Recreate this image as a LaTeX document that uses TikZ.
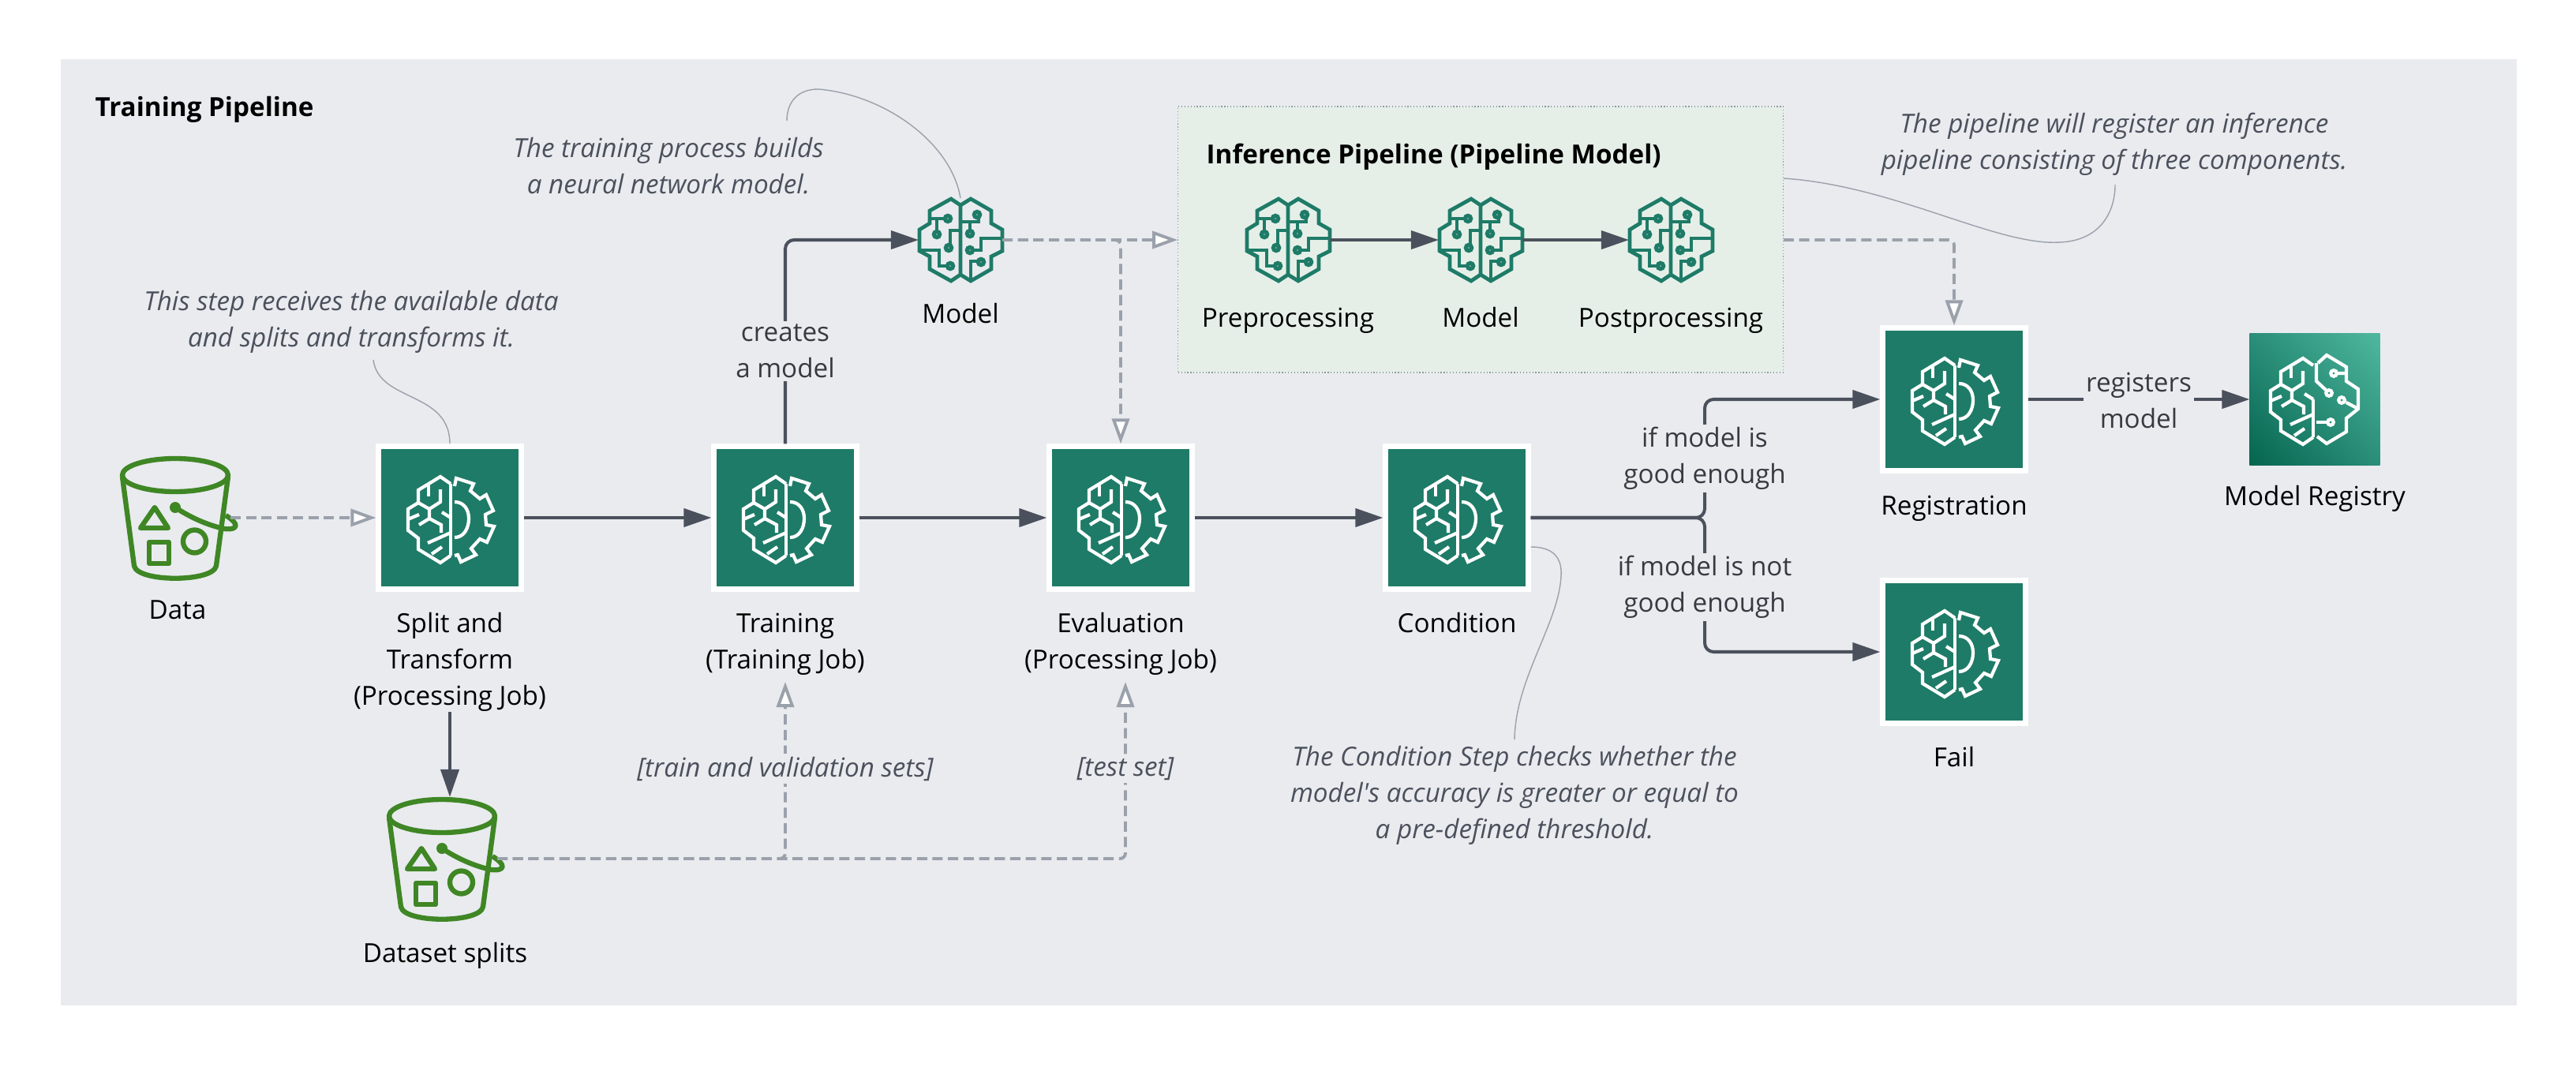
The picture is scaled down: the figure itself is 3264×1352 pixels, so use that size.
\documentclass[tikz,border=0pt]{standalone}
\usepackage{fontspec}
\defaultfontfeatures[\rmfamily]{}
\setmainfont{Open Sans}
\usepackage{xcolor}
\usetikzlibrary{calc,arrows.meta,positioning,shadings}
\definecolor{panelc}{HTML}{E9EBEF}
\definecolor{infc}{HTML}{E5EFE8}
\definecolor{infb}{HTML}{8E989E}
\definecolor{sagec}{HTML}{1E7B67}
\definecolor{bucketc}{HTML}{3F8624}
\definecolor{darkc}{HTML}{4B515C}
\definecolor{greyc}{HTML}{9BA1AB}
\definecolor{textc}{HTML}{363A41}
\definecolor{regdark}{HTML}{05654F}
\definecolor{regmid}{HTML}{2A8E78}
\definecolor{reglight}{HTML}{4FB89F}
\newcommand{\brainlobe}{
  \draw (1,-43)--(-12,-52)--(-40,-35)--(-40,-19)--(-53,-11)--(-53,16)--(-40,26)--(-40,40)--(-12,57)--(1,48);
  \draw (-27,-41)--(-27,-27);
  \draw (-12,-36)--(-12,-20)--(-26,-11)--(-40,-19);
  \draw (-26,-11)--(-26,1)--(-11,9)--(-11,19);
  \draw (-53,2)--(-39,-4);
  \draw (-39,9)--(-26,1);
  \draw (-10,-7)--(1,0);
  \draw (-28,32)--(1,19);
  \draw (-23,46)--(-10,37);
}
\tikzset{
  ar/.style={-{Triangle[length=3.5mm,width=2.3mm]},line width=1.15pt,darkc,rounded corners=3.2pt},
  dar/.style={-{Triangle[open,fill=white,length=3.2mm,width=2.2mm]},line width=1.1pt,greyc,dash pattern=on 3.7pt off 1.9pt,rounded corners=2pt},
  lead/.style={greyc,line width=0.4pt},
  stepbox/.style={draw=white,fill=sagec,line width=1.85pt,minimum size=1.805cm,inner sep=0pt},
  iconbox/.style={minimum size=1.06cm,inner sep=0pt,outer sep=0pt},
  bucketbox/.style={minimum width=1.4cm,minimum height=1.56cm,inner sep=0pt,outer sep=0pt},
  regbox/.style={minimum width=1.65cm,minimum height=1.66cm,inner sep=0pt,outer sep=0pt,lower left=regdark,upper right=reglight,upper left=regmid,lower right=regmid},
  lbl/.style={font=\fontsize{9.45pt}{13.1pt}\selectfont,align=center,text=black,inner sep=0pt},
  cnt/.style={font=\fontsize{9.45pt}{13.1pt}\selectfont,align=center,text=textc,fill=panelc,inner sep=1pt},
  note/.style={font=\fontsize{9.45pt}{13.1pt}\selectfont\itshape,align=center,text=darkc,inner sep=0pt},
  ttl/.style={font=\fontsize{9.45pt}{13.1pt}\selectfont\bfseries,text=black,anchor=west,inner sep=0pt},
  gearbrain/.pic={
    \begin{scope}[white,line width=1.2pt]
    \brainlobe
    \draw (1,-43)--(1,48);
    \draw (6,-40)--(8,-50)--(30,-43)--(26,-34)--(38,-24)--(46,-29)--(55,-9)--(45,-4)--(46,9)--(56,11)--(47,31)--(38,27)--(27,39)--(33,47)--(14,56)--(10,47)--(6,48);
    \draw (6,-20) .. controls (18,-20) and (24,-10) .. (24,1) .. controls (24,13) and (18,25) .. (6,25);
    \end{scope}
  },
  circbrain/.pic={
    \begin{scope}[sagec,line width=1.35pt]
    \draw (0,-44)--(-12,-52)--(-39,-37)--(-39,-21)--(-52,-13)--(-52,14)--(-39,21)--(-39,37)--(-12,52)--(0,44)--cycle;
    \draw (0,-44)--(13,-52)--(39,-37)--(39,-21)--(53,-13)--(53,14)--(39,21)--(39,37)--(13,52)--(0,44);
    \draw (-39,-27)--(-20,-27) (-30,-27)--(-30,-12);
    \draw (0,-12)--(-13,-12)--(-13,5);
    \draw (-52,13)--(-27,13)--(-27,33)--(-18,33);
    \draw (0,-23)--(23,-23)--(23,-27) (12,-23)--(12,-12);
    \draw (53,-2)--(26,-2)--(26,13)--(17,13);
    \draw (13,49)--(13,27)--(21,27);
    \draw[line width=1.5pt] (-16,-27) circle (3.6) (-30,-7) circle (3.6) (-15,10) circle (3.6) (-13,33) circle (3.6);
    \draw[line width=1.5pt] (21,-32) circle (3.6) (12,-8) circle (3.6) (12,13) circle (3.6) (26,28) circle (3.6);
    \end{scope}
  },
  regbrain/.pic={
    \begin{scope}[white,line width=1.2pt]
    \begin{scope}[shift={(-3,0)}]
    \brainlobe
    \draw (1,0)--(1,48);
    \end{scope}
    \draw (4,-46)--(15,-56)--(40,-41)--(40,-23)--(55,-13)--(55,12)--(40,24)--(40,41)--(15,56)--(3,47);
    \draw (2,-46)--(2,-23)--(15,-11);
    \draw (28,-33)--(40,-33) (40,4)--(55,12) (38,2)--(40,2);
    \draw (2,29)--(16,29);
    \draw (18,-8) circle (3.8) (24,-33) circle (3.8) (34,1) circle (3.8) (20,29) circle (3.8);
    \end{scope}
  },
  bucket/.pic={
    \begin{scope}[bucketc,line width=1.8pt,line join=round]
    \draw (0,-54) ellipse (67 and 21);
    \draw (-67,-52)--(-52,61) .. controls (-48,82) and (48,82) .. (52,61)--(67,-52);
    \fill (0,-13) circle (7);
    \draw (0,-13) .. controls (20,0) and (40,9) .. (62,14) .. controls (80,16) and (82,8) .. (64,-3);
    \draw (-26,-13)--(-44,13)--(-9,13)--cycle;
    \draw (-33,31) rectangle (-8,58);
    \draw (24.5,30) circle (14.5);
    \end{scope}
  }
}
\begin{document}
\begin{tikzpicture}[x=0.01cm,y=-0.01cm]
\useasboundingbox (0,0) rectangle (3264,1352);
\fill[white] (0,0) rectangle (3264,1352);
\fill[panelc] (77,75) rectangle (3189,1274);
\node[ttl] (maintitle) at (120,139) {Training Pipeline};
% inference group
\node[draw=infb,fill=infc,line width=0.35pt,dash pattern=on 0.35pt off 0.75pt,minimum width=7.66cm,minimum height=3.37cm,inner sep=0pt] (infer) at (1876,303.5) {};
\node[ttl] (infertitle) at (1528,199) {Inference Pipeline (Pipeline Model)};
\node[iconbox] (prep) at (1632,304) {};
\node[iconbox] (infmodel) at (1876,304) {};
\node[iconbox] (post) at (2117,304) {};
\pic at (prep) {circbrain};
\pic at (infmodel) {circbrain};
\pic at (post) {circbrain};
\node[lbl] (preplbl) at (1632,406) {Preprocessing};
\node[lbl] (infmodellbl) at (1876,402) {Model};
\node[lbl] (postlbl) at (2117,406) {Postprocessing};
% main steps
\node[bucketbox] (data) at (222,656) {};
\node[bucketbox] (splits) at (560,1088) {};
\node[stepbox] (split) at (570,656) {};
\node[stepbox] (train) at (995,656) {};
\node[stepbox] (eval) at (1420,656) {};
\node[stepbox] (cond) at (1846,656) {};
\node[stepbox] (reg) at (2476,506) {};
\node[stepbox] (fail) at (2476,826) {};
\node[iconbox] (model) at (1217,304) {};
\node[regbox] (registry) at (2933,506) {};
\pic at (data) {bucket};
\pic at (splits) {bucket};
\pic at (split) {gearbrain};
\pic at (train) {gearbrain};
\pic at (eval) {gearbrain};
\pic at (cond) {gearbrain};
\pic at (reg) {gearbrain};
\pic at (fail) {gearbrain};
\pic at (model) {circbrain};
\pic at (registry) {regbrain};
\node[lbl] (splitlbl) at (570,839) {Split and\\Transform\\(Processing Job)};
\coordinate (traintip) at (995,864);
\coordinate (evaltip) at (1426,864);
% solid flow
\draw[ar] (split) -- (train);
\draw[ar] (train) -- (eval);
\draw[ar] (eval) -- (cond);
\draw[ar] (train.north) |- (model.west);
\draw[ar] (splitlbl.south) -- (split |- splits.north);
\draw[ar] (cond.east) -- (2160,656) |- (reg.west);
\draw[ar] (cond.east) -- (2160,656) |- (fail.west);
\draw[ar] (reg) -- (registry);
\draw[ar] (prep) -- (infmodel);
\draw[ar] (infmodel) -- (post);
% dashed flow
\draw[dar] (data.east) -- (split.west);
\draw[dar] (model.east) -- (model.east -| infer.west);
\draw[dar] (model.east) -| (eval.north);
\draw[dar] (infer.east |- model.east) -| (reg.north);
\draw[dar] (splits.east) -| (traintip);
\draw[dar] (splits.east) -| (evaltip);
% leader curves
\draw[lead] (model.north) .. controls (1205,180) and (1120,120) .. (1037,113) .. controls (1010,113) and (997,130) .. (997,153);
\draw[lead] (split.north) .. controls (570,495) and (480,510) .. (473,456);
\draw[lead] (cond.east |- 0,693) .. controls (1960,693) and (1980,700) .. (1978,730) .. controls (1975,790) and (1920,860) .. (1919,937);
\draw[lead] (infer.east |- 0,226) .. controls (2400,235) and (2530,312) .. (2610,307) .. controls (2660,305) and (2680,270) .. (2680,234);
% labels
\node[lbl] (datalbl) at (225,773) {Data};
\node[lbl] (trainlbl) at (995,816) {Training\\(Training Job)};
\node[lbl] (evallbl) at (1420,816) {Evaluation\\(Processing Job)};
\node[lbl] (condlbl) at (1846,789) {Condition};
\node[lbl] (splitslbl) at (564,1211) {Dataset splits};
\node[lbl] (modellbl) at (1217,397) {Model};
\node[lbl] (reglbl) at (2476,644) {Registration};
\node[lbl] (faillbl) at (2476,959) {Fail};
\node[lbl] (registrylbl) at (2933,632) {Model Registry};
\node[cnt] (creates) at (995,445) {creates\\a model};
\node[cnt] (goodlbl) at (2160,581) {if model is\\good enough};
\node[cnt] (notgoodlbl) at (2160,744) {if model is not\\good enough};
\node[cnt] (registers) at (2710,507) {registers\\model};
\node[note,fill=panelc,inner sep=1pt] (trainsets) at (995,974) {[train and validation sets]};
\node[note,fill=panelc,inner sep=1pt] (testset) at (1426,974) {[test set]};
\node[note] (splitnote) at (445,408) {This step receives the available data\\and splits and transforms it.};
\node[note] (trainnote) at (847,210) {The training process builds\\a neural network model.};
\node[note] (condnote) at (1919,1008) {The Condition Step checks whether the\\model's accuracy is greater or equal to\\a pre-defined threshold.};
\node[note] (regnote) at (2679,183) {The pipeline will register an inference\\pipeline consisting of three components.};
\end{tikzpicture}
\end{document}
